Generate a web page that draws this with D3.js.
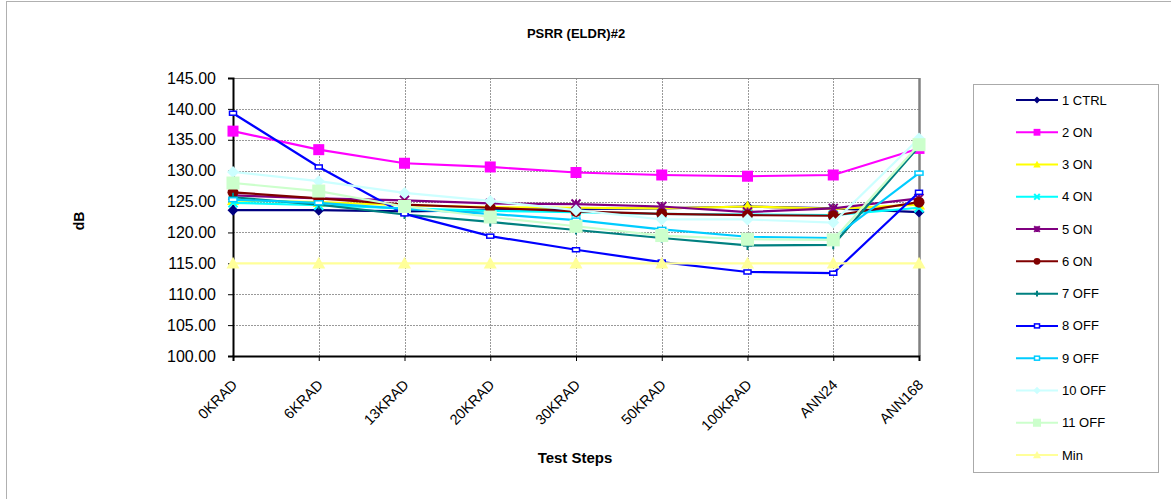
<!DOCTYPE html>
<html>
<head>
<meta charset="utf-8">
<script src="https://cdn.jsdelivr.net/npm/d3@7"></script>
<style>
  html, body { margin: 0; padding: 0; background: #fff; }
  svg { display: block; font-family: "Liberation Sans", Arial, sans-serif; }
</style>
</head>
<body>
<svg id="chart" width="1171" height="499"></svg>
<script>
// Test steps along the x axis
const steps = ["0KRAD", "6KRAD", "13KRAD", "20KRAD", "30KRAD", "50KRAD", "100KRAD", "ANN24", "ANN168"];

// PSRR readings (dB) per device
const ctrl1 = [123.6, 123.6, 123.4, 123.6, 123.8, 123.9, 124.2, 123.9, 123.3];
const on2   = [136.4, 133.4, 131.2, 130.6, 129.7, 129.3, 129.1, 129.3, 133.6];
const on3   = [125.2, 124.9, 124.4, 124.1, 124.0, 123.9, 124.2, 123.8, 124.5];
const on4   = [124.8, 124.4, 123.9, 123.5, 123.3, 123.0, 122.9, 122.8, 124.0];
const on5   = [126.0, 125.5, 125.2, 124.7, 124.6, 124.2, 123.3, 123.9, 125.5];
const on6   = [126.5, 125.5, 124.5, 124.0, 123.4, 123.0, 122.8, 122.7, 124.9];
const off7  = [125.7, 124.5, 122.9, 121.7, 120.4, 119.1, 117.9, 118.0, 133.9];
const off8  = [139.3, 130.6, 123.0, 119.4, 117.2, 115.2, 113.6, 113.4, 126.5];
const off9  = [125.3, 124.8, 123.8, 123.0, 122.0, 120.5, 119.3, 119.1, 129.6];
const off10 = [129.8, 128.3, 126.4, 125.1, 123.6, 122.1, 122.1, 121.6, 135.2];
const off11 = [128.0, 126.7, 124.2, 122.5, 121.0, 119.5, 118.9, 118.8, 134.2];
const minLimit = [115, 115, 115, 115, 115, 115, 115, 115, 115];

const yTicks = [100, 105, 110, 115, 120, 125, 130, 135, 140, 145];

const series = [
  { name: "1 CTRL", values: ctrl1, color: "#000080", marker: "diamond", size: 11 },
  { name: "2 ON",   values: on2,   color: "#FF00FF", marker: "square", size: 11 },
  { name: "3 ON",   values: on3,   color: "#FFFF00", marker: "triangle", size: 12 },
  { name: "4 ON",   values: on4,   color: "#00FFFF", marker: "x", size: 9 },
  { name: "5 ON",   values: on5,   color: "#800080", marker: "asterisk", size: 9 },
  { name: "6 ON",   values: on6,   color: "#800000", marker: "circle", size: 11 },
  { name: "7 OFF",  values: off7,  color: "#008080", marker: "plus", size: 9 },
  { name: "8 OFF",  values: off8,  color: "#0000FF", marker: "dash", size: 7 },
  { name: "9 OFF",  values: off9,  color: "#00CCFF", marker: "dash", size: 8 },
  { name: "10 OFF", values: off10, color: "#CCFFFF", marker: "diamond", size: 12 },
  { name: "11 OFF", values: off11, color: "#CCFFCC", marker: "square", size: 13 },
  { name: "Min",    values: minLimit, color: "#FFFF99", marker: "triangle", size: 13 }
];

const svg = d3.select("#chart");

// outer chart frame
svg.append("rect")
  .attr("x", 6.5).attr("y", 1.5)
  .attr("width", 1170).attr("height", 500)
  .attr("fill", "#fff").attr("stroke", "#b0b0b0").attr("stroke-width", 1);

const plot = { left: 233, right: 919, top: 78, bottom: 356 };

const x = d3.scalePoint().domain(steps).range([plot.left, plot.right]);
const y = d3.scaleLinear().domain([100, 145]).range([plot.bottom, plot.top]);

// title
svg.append("text")
  .attr("x", 576).attr("y", 38)
  .attr("text-anchor", "middle")
  .attr("font-size", 13).attr("font-weight", "bold")
  .text("PSRR (ELDR)#2");

// gridlines
const grid = svg.append("g");
grid.selectAll("line.h").data(yTicks.filter(t => t > 100)).join("line")
  .attr("x1", plot.left).attr("x2", plot.right)
  .attr("y1", d => Math.round(y(d)) + 0.5).attr("y2", d => Math.round(y(d)) + 0.5)
  .attr("stroke", "#999").attr("stroke-width", 1).attr("stroke-dasharray", "2,1");
grid.selectAll("line.v").data(steps.slice(1, -1)).join("line")
  .attr("y1", plot.top).attr("y2", plot.bottom)
  .attr("x1", d => Math.round(x(d)) + 0.5).attr("x2", d => Math.round(x(d)) + 0.5)
  .attr("stroke", "#999").attr("stroke-width", 1).attr("stroke-dasharray", "2,1");

// plot area border (top and right)
svg.append("line")
  .attr("x1", plot.left).attr("x2", plot.right)
  .attr("y1", plot.top + 0.5).attr("y2", plot.top + 0.5)
  .attr("stroke", "#888").attr("stroke-width", 1);
svg.append("line")
  .attr("x1", plot.right + 0.5).attr("x2", plot.right + 0.5)
  .attr("y1", plot.top).attr("y2", plot.bottom)
  .attr("stroke", "#808080").attr("stroke-width", 2.5);

// y axis
const yAxis = svg.append("g")
  .attr("transform", `translate(${plot.left},0)`)
  .call(d3.axisLeft(y).tickValues(yTicks).tickFormat(d3.format(".2f")).tickSize(5).tickPadding(12));
yAxis.select(".domain").attr("stroke", "#000").attr("stroke-width", 2);
yAxis.selectAll(".tick line").attr("stroke", "#000");
yAxis.selectAll("text")
  .attr("font-size", 16).attr("fill", "#000")
  .attr("font-family", "'Liberation Sans', Arial, sans-serif");

// x axis
const xAxis = svg.append("g")
  .attr("transform", `translate(0,${plot.bottom})`)
  .call(d3.axisBottom(x).tickSize(5).tickPadding(6));
xAxis.select(".domain").attr("stroke", "#000").attr("stroke-width", 2);
xAxis.selectAll(".tick line").attr("stroke", "#000");
xAxis.selectAll("text")
  .attr("font-size", 14.5).attr("fill", "#000")
  .attr("font-family", "'Liberation Sans', Arial, sans-serif")
  .attr("text-anchor", "end")
  .attr("dy", 0)
  .attr("transform", "translate(-3,22) rotate(-45)");

// axis titles
svg.append("text")
  .attr("transform", "translate(84,221) rotate(-90)")
  .attr("text-anchor", "middle")
  .attr("font-size", 14).attr("font-weight", "bold")
  .text("dB");
svg.append("text")
  .attr("x", 575).attr("y", 463)
  .attr("text-anchor", "middle")
  .attr("font-size", 15).attr("font-weight", "bold")
  .text("Test Steps");

// marker drawing
function drawMarker(g, type, color, s) {
  const h = s / 2;
  switch (type) {
    case "diamond":
      g.append("path").attr("d", `M0,${-h}L${h},0L0,${h}L${-h},0Z`).attr("fill", color);
      break;
    case "square":
      g.append("rect").attr("x", -h).attr("y", -h).attr("width", s).attr("height", s).attr("fill", color);
      break;
    case "triangle":
      g.append("path").attr("d", `M0,${-h}L${h},${h * 0.8}L${-h},${h * 0.8}Z`).attr("fill", color);
      break;
    case "circle":
      g.append("circle").attr("r", h).attr("fill", color);
      break;
    case "x":
      g.append("path").attr("d", `M${-h},${-h}L${h},${h}M${-h},${h}L${h},${-h}`)
        .attr("stroke", color).attr("stroke-width", 2);
      break;
    case "asterisk":
      g.append("path").attr("d", `M${-h},${-h}L${h},${h}M${-h},${h}L${h},${-h}M0,${-h}L0,${h}`)
        .attr("stroke", color).attr("stroke-width", 2);
      break;
    case "plus":
      g.append("path").attr("d", `M${-h},0L${h},0M0,${-h}L0,${h}`)
        .attr("stroke", color).attr("stroke-width", 2);
      break;
    case "dash":
      g.append("rect").attr("x", -h).attr("y", -2).attr("width", s).attr("height", 4)
        .attr("fill", "#fff").attr("stroke", color).attr("stroke-width", 1.5);
      break;
  }
}

// series lines and markers
const line = d3.line().x((d, i) => x(steps[i])).y(d => y(d));
const seriesLayer = svg.append("g");
series.forEach(s => {
  const g = seriesLayer.append("g");
  g.append("path")
    .datum(s.values)
    .attr("d", line)
    .attr("fill", "none")
    .attr("stroke", s.color)
    .attr("stroke-width", 2.2);
  s.values.forEach((v, i) => {
    const m = g.append("g").attr("transform", `translate(${x(steps[i])},${y(v)})`);
    drawMarker(m, s.marker, s.color, s.size);
  });
});

// legend
const legend = svg.append("g");
legend.append("rect")
  .attr("x", 973.5).attr("y", 84.5)
  .attr("width", 185).attr("height", 388)
  .attr("fill", "#fff").attr("stroke", "#aaa").attr("stroke-width", 1);
const legendY = d3.scalePoint().domain(series.map(s => s.name)).range([100, 455]);
series.forEach(s => {
  const ly = legendY(s.name);
  const item = legend.append("g").attr("transform", `translate(0,${ly})`);
  item.append("line").attr("x1", 1016).attr("x2", 1058).attr("y1", 0).attr("y2", 0)
    .attr("stroke", s.color).attr("stroke-width", 2);
  const m = item.append("g").attr("transform", "translate(1037,0)");
  drawMarker(m, s.marker, s.color, Math.max(5, s.size * 0.62));
  item.append("text")
    .attr("x", 1062).attr("y", 0).attr("dy", "0.35em")
    .attr("font-size", 13).attr("fill", "#000")
    .text(s.name);
});
</script>
</body>
</html>
